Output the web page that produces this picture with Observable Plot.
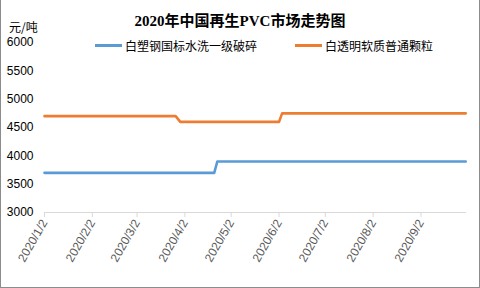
<!DOCTYPE html>
<html><head><meta charset="utf-8">
<script src="https://cdn.jsdelivr.net/npm/d3@7"></script>
<script src="https://cdn.jsdelivr.net/npm/@observablehq/plot@0.6"></script>
<style>
body{margin:0;background:#fff;}
#wrap{position:relative;width:480px;height:288px;overflow:hidden;font-family:"Noto Sans CJK SC",sans-serif;}
#frame{position:absolute;left:0;top:-2px;width:478px;height:288px;border:1px solid #8c8c8c;box-sizing:content-box;}
#title{position:absolute;left:0;width:480px;top:9px;text-align:center;font:bold 15px "Liberation Serif","Noto Sans CJK SC",serif;color:#000;}
#unit{position:absolute;left:9px;top:21px;font-size:12px;line-height:12px;color:#000;}
.leg{position:absolute;top:37px;font-size:12px;color:#000;display:flex;align-items:center;white-space:nowrap;}
.leg i{display:inline-block;width:27px;height:3px;margin-right:3px;}
svg{position:absolute;left:0;top:0;}
</style></head>
<body><div id="wrap"><div id="frame"></div></div>
<script>
const seriesNames = ["白塑钢国标水洗一级破碎", "白透明软质普通颗粒"];
const seriesColors = ["#5B9BD5", "#ED7D31"];
const blueDates = ["2020-01-02", "2020-04-21", "2020-04-23", "2020-10-01"];
const blueValues = [3700, 3700, 3900, 3900];
const orangeDates = ["2020-01-02", "2020-03-27", "2020-03-30", "2020-06-02", "2020-06-04", "2020-10-01"];
const orangeValues = [4700, 4700, 4600, 4600, 4750, 4750];
const tickDates = ["2020-01-02","2020-02-02","2020-03-02","2020-04-02","2020-05-02","2020-06-02","2020-07-02","2020-08-02","2020-09-02"];
const yTicks = [3000, 3500, 4000, 4500, 5000, 5500, 6000];
const title = "2020年中国再生PVC市场走势图";
const unit = "元/吨";

const parse = s => new Date(s + "T00:00:00Z");
const data = [
  ...blueDates.map((d, i) => ({date: parse(d), value: blueValues[i], series: seriesNames[0]})),
  ...orangeDates.map((d, i) => ({date: parse(d), value: orangeValues[i], series: seriesNames[1]}))
];
const fmt = d => `${d.getUTCFullYear()}/${d.getUTCMonth() + 1}/${d.getUTCDate()}`;

const chart = Plot.plot({
  width: 480, height: 288,
  marginTop: 42, marginBottom: 76, marginLeft: 44, marginRight: 14,
  style: {fontFamily: "'Liberation Sans', sans-serif", background: "transparent"},
  x: {type: "utc", domain: [parse("2020-01-02"), new Date(Date.UTC(2020, 9, 1, 12))]},
  y: {domain: [3000, 6000]},
  color: {domain: seriesNames, range: seriesColors},
  marks: [
    Plot.ruleY([3000], {stroke: "#d9d9d9", strokeWidth: 1}),
    Plot.axisY({ticks: yTicks, tickSize: 0, tickPadding: 11, label: null, fontSize: 12, fontFamily: "Liberation Sans", fill: "#000", tickFormat: d => String(d)}),
    Plot.axisX({ticks: tickDates.map(parse), tickFormat: fmt, tickSize: 5, stroke: "#d9d9d9", tickRotate: -60, tickPadding: 3, fontSize: 12, fontFamily: "Liberation Sans", fill: "#595959", label: null}),
    Plot.line(data, {x: "date", y: "value", z: "series", stroke: "series", strokeWidth: 2.6})
  ]
});
const wrap = document.getElementById("wrap");
wrap.appendChild(chart);
const t = document.createElement("div"); t.id = "title"; t.textContent = title; wrap.appendChild(t);
const u = document.createElement("div"); u.id = "unit"; u.textContent = unit; wrap.appendChild(u);
const legLeft = [95, 295];
seriesNames.forEach((n, i) => {
  const l = document.createElement("div"); l.className = "leg"; l.style.left = legLeft[i] + "px";
  const sw = document.createElement("i"); sw.style.background = seriesColors[i];
  l.appendChild(sw); l.appendChild(document.createTextNode(n)); wrap.appendChild(l);
});
</script></body></html>
